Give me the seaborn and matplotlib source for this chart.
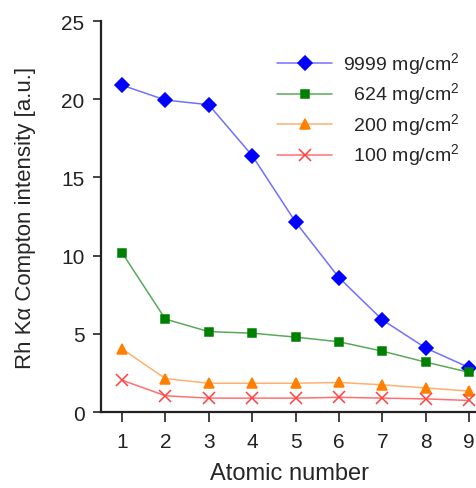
import pandas as pd
import seaborn as sns
import matplotlib.pyplot as plt

# Данные
atomic_number = [1, 2, 3, 4, 5, 6, 7, 8, 9]
i_9999 = [20.9, 19.95, 19.65, 16.4, 12.15, 8.6, 5.9, 4.1, 2.85]
i_624 = [10.2, 5.95, 5.15, 5.05, 4.8, 4.5, 3.9, 3.2, 2.55]
i_200 = [4.05, 2.15, 1.85, 1.85, 1.85, 1.9, 1.75, 1.55, 1.35]
i_100 = [2.05, 1.05, 0.9, 0.9, 0.9, 0.95, 0.9, 0.85, 0.75]

sns.set_style("ticks")
plt.rcParams['font.family'] = ['Liberation Sans', 'DejaVu Sans']
plt.rcParams['mathtext.fontset'] = 'custom'
plt.rcParams['mathtext.rm'] = 'Liberation Sans'

fig = plt.figure(figsize=(4.77, 4.89), dpi=100)
ax = fig.add_axes([0.212, 0.155, 0.788, 0.80])

series = [
    (i_9999, '9999 mg/cm$^2$', '#7070ff', '#0000ff', 'D', 7.5),
    (i_624, '  624 mg/cm$^2$', '#5aa85a', '#008000', 's', 6),
    (i_200, '  200 mg/cm$^2$', '#ffb070', '#ff8000', '^', 7.5),
    (i_100, '  100 mg/cm$^2$', '#ff7070', '#ff4040', 'x', 8),
]

for vals, lab, lc, mc, mk, ms in series:
    df = pd.DataFrame({'x': atomic_number, 'y': vals})
    sns.lineplot(data=df, x='x', y='y', ax=ax, label=lab, color=lc,
                 marker=mk, markersize=ms, markerfacecolor=mc,
                 markeredgecolor=mc, markeredgewidth=1.1, linewidth=1.1)

ax.set_xlim(0.52, 9.18)
ax.set_ylim(0, 25)
ax.set_xticks(atomic_number)
ax.set_yticks([0, 5, 10, 15, 20, 25])
ax.set_xlabel('Atomic number', fontsize=17, labelpad=8)
ax.set_ylabel('Rh Kα Compton intensity [a.u.]', fontsize=16, labelpad=18)
ax.tick_params(axis='both', labelsize=15, width=1.2, colors='#222222')
ax.tick_params(axis='x', length=7, pad=7)
ax.tick_params(axis='y', length=6, pad=6)
sns.despine(ax=ax)
for s in ['left', 'bottom']:
    ax.spines[s].set_linewidth(1.6)
    ax.spines[s].set_color('#222222')

ax.legend(loc='upper right', frameon=False, fontsize=14, handlelength=2.8,
          handletextpad=0.6, labelspacing=0.2, borderaxespad=0.0,
          bbox_to_anchor=(0.975, 0.945))

plt.savefig('out.png', dpi=100)
